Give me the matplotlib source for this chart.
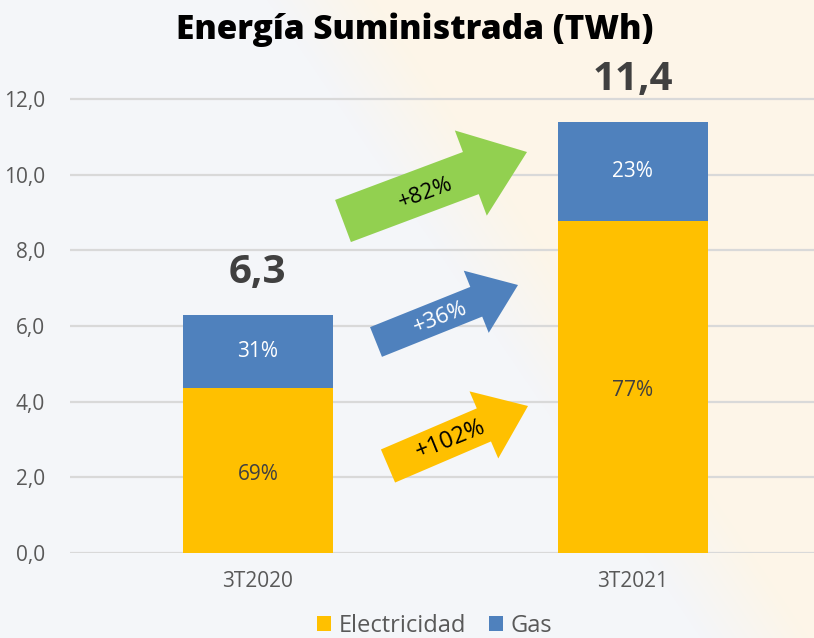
import numpy as np
import matplotlib
matplotlib.use("Agg")
import matplotlib.pyplot as plt
from matplotlib.patches import Polygon

plt.rcParams["font.family"] = ["Open Sans", "DejaVu Sans"]

# data
periods = ["3T2020", "3T2021"]
electricidad = [4.35, 8.78]
gas = [1.95, 2.62]
totals = ["6,3", "11,4"]
pct_elec = ["69%", "77%"]
pct_gas = ["31%", "23%"]
yticks = [0, 2, 4, 6, 8, 10, 12]
ytick_labels = ["0,0", "2,0", "4,0", "6,0", "8,0", "10,0", "12,0"]
growth = ["+82%", "+36%", "+102%"]

YEL = "#FFC000"
BLUE = "#4F81BD"
GREEN = "#92D050"
W, H = 814, 638

fig = plt.figure(figsize=(W / 100, H / 100), dpi=100)

# soft two-tone background: cool grey on the left, beige on the right
bg = fig.add_axes([0, 0, 1, 1], zorder=-10)
yy, xx = np.mgrid[0:H, 0:W]
d = (xx - (321 + 0.68 * yy)) / np.hypot(1, 0.68)
t = np.clip(0.5 + d / 90, 0, 1)[..., None]
left_c = np.array([0xf4, 0xf6, 0xf9]) / 255
right_c = np.array([0xfd, 0xf5, 0xe8]) / 255
bg.imshow(left_c * (1 - t) + right_c * t, aspect="auto", extent=(0, 1, 0, 1))
bg.axis("off")

ax = fig.add_axes([70 / W, 85 / H, 744 / W, 13.5 * 37.83 / H])
ax.patch.set_alpha(0)

x = np.arange(len(periods))
ax.bar(x, electricidad, width=0.4, color=YEL, label="Electricidad", zorder=3)
ax.bar(x, gas, width=0.4, bottom=electricidad, color=BLUE, label="Gas", zorder=3)

for i in range(len(periods)):
    ax.text(x[i], electricidad[i] / 2 - 0.1, pct_elec[i], ha="center", va="center",
            fontsize=15, color="#404040", zorder=4)
    ax.text(x[i], electricidad[i] + gas[i] / 2, pct_gas[i], ha="center", va="center",
            fontsize=15, color="white", zorder=4)
    ax.text(x[i], electricidad[i] + gas[i] + 0.6, totals[i], ha="center", va="bottom",
            fontsize=29, fontweight="bold", color="#404040", zorder=4)

ax.set_xlim(-0.501, 1.483)
ax.set_ylim(0, 13.5)
ax.set_yticks(yticks)
ax.set_yticklabels(ytick_labels)
ax.set_xticks(x)
ax.set_xticklabels(periods)
ax.tick_params(length=0, labelsize=15, colors="#595959")
ax.tick_params(axis="x", pad=13)
ax.tick_params(axis="y", pad=18)
for s in ax.spines.values():
    s.set_visible(False)
ax.grid(axis="y", color="#d9d9d9", lw=1.6, zorder=0)

fig.text(0.51, 1 - 30 / H, "Energía Suministrada (TWh)", ha="center", va="center",
         fontsize=24, fontweight="heavy", color="black")

leg = ax.legend(loc="center", bbox_to_anchor=(0.49, (12 - 85) / (13.5 * 37.83)),
                bbox_transform=ax.transAxes, ncol=2, frameon=False, fontsize=17,
                handlelength=0.6, handleheight=0.6, handletextpad=0.3, columnspacing=1.0)
for t_ in leg.get_texts():
    t_.set_color("#595959")


def arrow(tail, tip, shaft, head, headlen, color):
    # arrow polygon built in pixel space, then converted to figure fraction
    a = np.array(tail, float)
    p = np.array(tip, float)
    u = (p - a) / np.linalg.norm(p - a)
    n = np.array([-u[1], u[0]])
    b = p - u * headlen
    pts = [a + n * shaft / 2, b + n * shaft / 2, b + n * head / 2, p,
           b - n * head / 2, b - n * shaft / 2, a - n * shaft / 2]
    pts = [(q[0] / W, 1 - q[1] / H) for q in pts]
    fig.patches.append(Polygon(pts, closed=True, transform=fig.transFigure,
                               facecolor=color, edgecolor="none", zorder=5))


arrow((343, 221), (527, 152), 45, 91, 60, GREEN)
arrow((376, 342), (518, 285), 32, 67, 45, BLUE)
arrow((388, 466), (528, 406), 36, 73, 48, YEL)

fig.text(426 / W, 1 - 193 / H, growth[0], rotation=20, ha="center", va="center",
         fontsize=16, color="black", zorder=6)
fig.text(440 / W, 1 - 318 / H, growth[1], rotation=21, ha="center", va="center",
         fontsize=16, color="white", zorder=6)
fig.text(451 / W, 1 - 440 / H, growth[2], rotation=22, ha="center", va="center",
         fontsize=17, color="black", zorder=6)

fig.savefig("out.png", dpi=100)
